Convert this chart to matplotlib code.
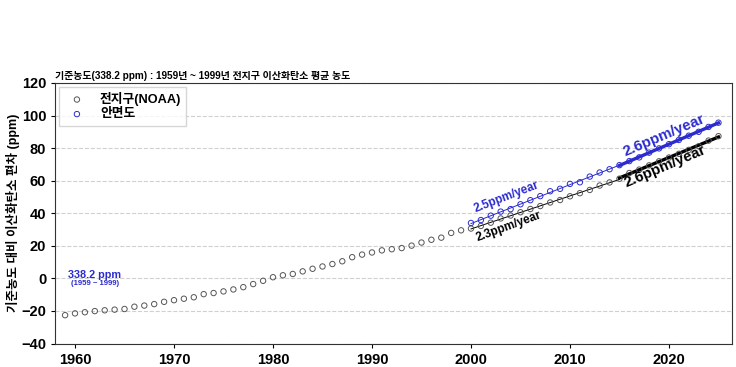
import numpy as np
from matplotlib import pyplot as plt

plt.rcParams['font.family'] = ['Liberation Sans', 'Noto Sans CJK KR', 'DejaVu Sans']

# anomaly vs 338.2 ppm (1959-1999 mean)
global_years = list(range(1959, 2026))
global_dev = [-22.6, -21.5, -20.8, -20.1, -19.6, -19.2, -18.8, -17.4, -16.7, -15.8,
              -14.4, -13.4, -12.5, -11.6, -9.7, -9.0, -8.0, -6.8, -5.4, -3.5,
              -1.5, 0.7, 1.9, 2.7, 4.3, 5.9, 7.3, 8.8, 10.5, 13.0,
              14.6, 15.9, 17.2, 17.9, 18.6, 20.1, 22.0, 23.7, 25.0, 27.9,
              29.5, 30.6, 32.2, 34.2, 36.8, 38.6, 40.6, 42.6, 44.4, 46.6,
              48.1, 50.4, 52.3, 54.3, 57.0, 58.9, 61.2, 64.7, 66.8, 69.4,
              71.9, 74.2, 76.5, 78.9, 81.1, 84.6, 87.3]

amy_years = list(range(2000, 2026))
amy_dev = [34.0, 35.8, 38.5, 41.0, 42.5, 45.5, 48.0, 50.5, 53.5, 55.0,
           58.0, 59.0, 62.5, 65.0, 67.0, 69.5, 72.0, 74.3, 77.2, 79.8,
           82.4, 85.0, 87.6, 90.0, 93.0, 95.6]

periods = [(2000, 2015), (2015, 2025)]
global_rates = ['2.3ppm/year', '2.6ppm/year']
amy_rates = ['2.5ppm/year', '2.6ppm/year']

blue = '#2b2bd0'
gray = '#555555'

fig = plt.figure(figsize=(7.36, 3.67), dpi=100)
ax = fig.add_axes([0.075, 0.064, 0.92, 0.71])

ax.scatter(global_years, global_dev, s=15, facecolors='none', edgecolors=gray,
           linewidths=0.7, label='전지구(NOAA)', zorder=3)
ax.scatter(amy_years, amy_dev, s=15, facecolors='none', edgecolors=blue,
           linewidths=0.7, label='안면도', zorder=3)

gx = np.array(global_years)
gy = np.array(global_dev)
bx = np.array(amy_years)
by = np.array(amy_dev)
for i, (y0, y1) in enumerate(periods):
    lw = 0.7 if i == 0 else 2.4
    m = (gx >= y0) & (gx <= y1)
    p = np.polyfit(gx[m], gy[m], 1)
    xs = np.array([y0, y1])
    ax.plot(xs, np.polyval(p, xs), color='black', lw=lw, zorder=2)
    m = (bx >= y0) & (bx <= y1)
    p = np.polyfit(bx[m], by[m], 1)
    ax.plot(xs, np.polyval(p, xs), color=blue, lw=lw, zorder=2)

ax.text(2003.6, 50, amy_rates[0], color=blue, fontsize=8.5, fontweight='bold',
        rotation=21, ha='center', va='center')
ax.text(2003.8, 32, global_rates[0], color='black', fontsize=8.5, fontweight='bold',
        rotation=20, ha='center', va='center')
ax.text(2019.5, 88, amy_rates[1], color=blue, fontsize=10.8, fontweight='bold',
        rotation=23, ha='center', va='center')
ax.text(2019.6, 68.5, global_rates[1], color='black', fontsize=10.8, fontweight='bold',
        rotation=23, ha='center', va='center')

ax.text(1962.0, 2.2, '338.2 ppm', color=blue, fontsize=7.8, fontweight='bold',
        ha='center', va='center')
ax.text(1962.0, -3.0, '(1959 ~ 1999)', color=blue, fontsize=5.6, fontweight='bold',
        ha='center', va='center')

ax.set_xlim(1958, 2026.4)
ax.set_ylim(-40, 120)
ax.set_yticks(range(-40, 121, 20))
ax.set_xticks(range(1960, 2021, 10))
ax.yaxis.grid(True, linestyle='--', color='#d0d0d0', lw=0.8)
ax.set_axisbelow(True)
ax.tick_params(labelsize=10.5, length=3)
for lab in ax.get_xticklabels() + ax.get_yticklabels():
    lab.set_fontweight('bold')
for s in ax.spines.values():
    s.set_color('#333333')
    s.set_linewidth(0.8)

ax.set_ylabel('기준농도 대비 이산화탄소 편차 (ppm)', fontsize=9, fontweight='bold', labelpad=1)
ax.set_title('기준농도(338.2 ppm) : 1959년 ~ 1999년 전지구 이산화탄소 평균 농도',
             loc='left', fontsize=7.2, fontweight='bold', pad=3)

leg = ax.legend(loc='upper left', prop={'weight': 'bold', 'size': 9.2},
                frameon=True, fancybox=False, edgecolor='#cccccc',
                borderaxespad=0.3, handletextpad=0.8, labelspacing=0.2)

plt.savefig('out.png', dpi=100)
